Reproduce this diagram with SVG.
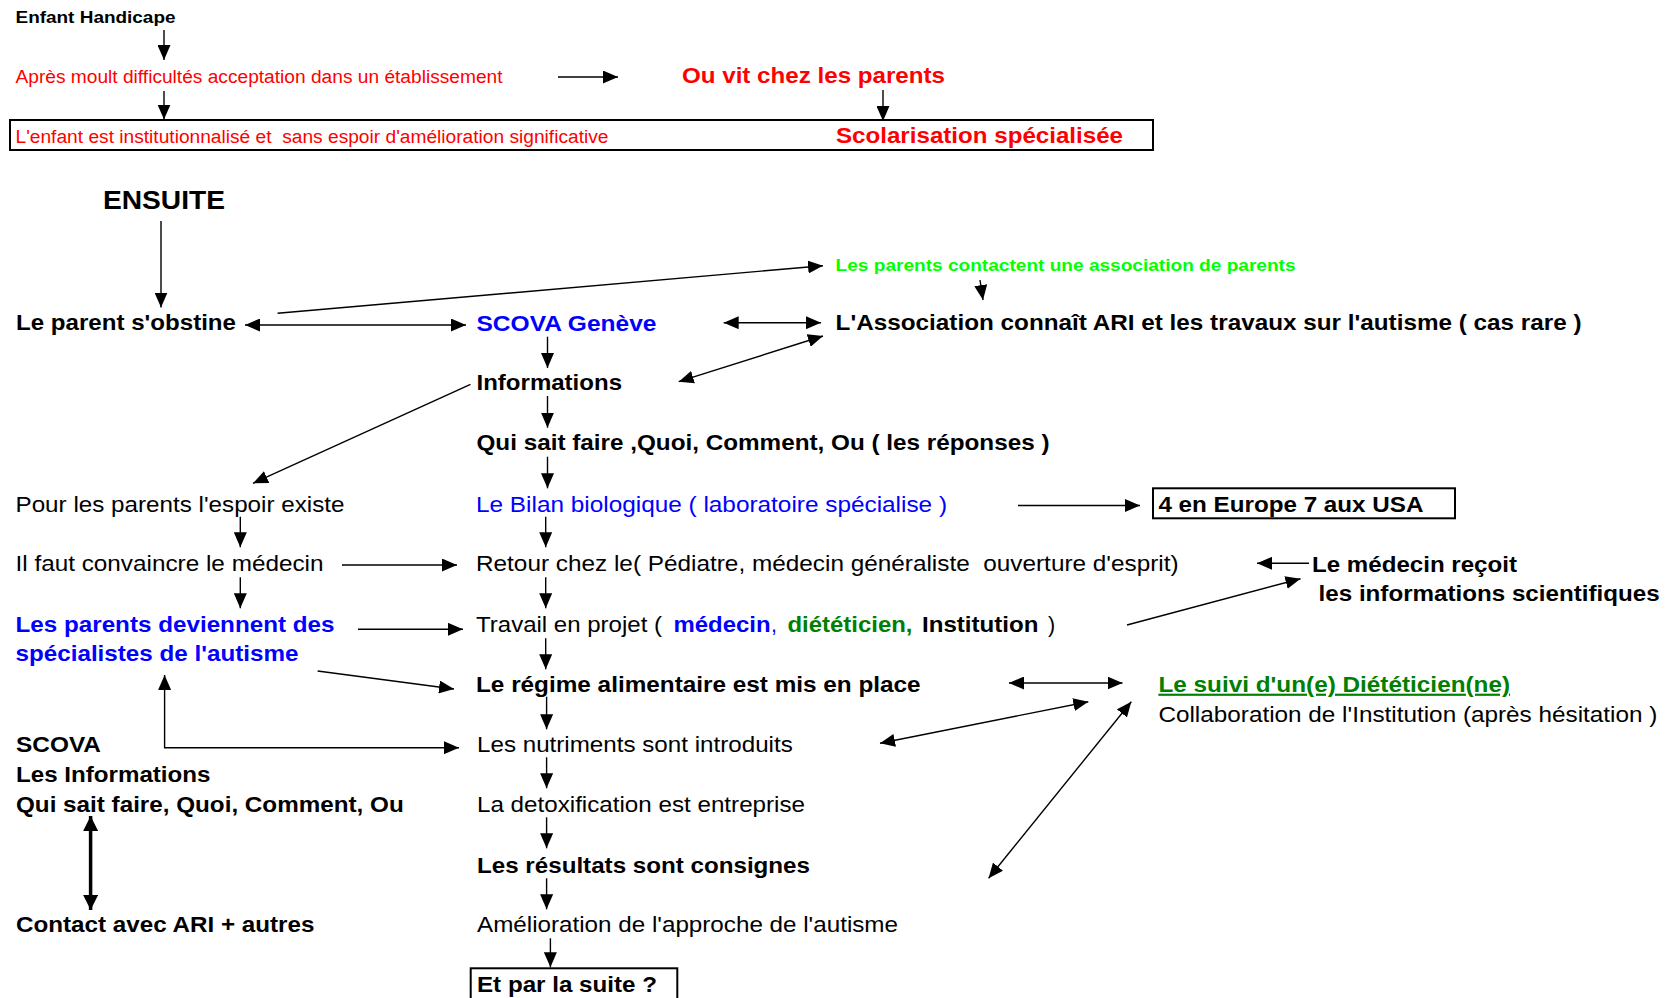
<svg xmlns="http://www.w3.org/2000/svg" width="1675" height="998" viewBox="0 0 1675 998">
<style>
text{font-family:"Liberation Sans",Arial,sans-serif;fill:#000}
.b{font-weight:bold}
.r{fill:#ff0000}
.bl{fill:#0000ff}
.g{fill:#00ff00}
.dg{fill:#008000}
.m{font-size:21.5px}
.ln{fill:none;stroke:#000;stroke-width:1.4}
.box{fill:none;stroke:#000;stroke-width:2}
</style>
<defs>
<marker id="ah" markerUnits="userSpaceOnUse" markerWidth="16" markerHeight="13" refX="15" refY="6.5" orient="auto-start-reverse" viewBox="0 0 16 13">
<path d="M0,0 L15,6.5 L0,13 z" fill="#000"/>
</marker>
<marker id="ahb" markerUnits="userSpaceOnUse" markerWidth="16" markerHeight="15" refX="15" refY="7.5" orient="auto-start-reverse" viewBox="0 0 16 15">
<path d="M0,0 L15,7.5 L0,15 z" fill="#000"/>
</marker>
</defs>
<g id="connectors">
<path class="ln" d="M164,30 V60" marker-end="url(#ah)"/>
<path class="ln" d="M558,77 H618" marker-end="url(#ah)"/>
<path class="ln" d="M164,91 V119.5" marker-end="url(#ah)"/>
<path class="ln" d="M883,90 V121" marker-end="url(#ah)"/>
<path class="ln" d="M161,221 V307.5" marker-end="url(#ah)"/>
<path class="ln" d="M277.6,313.3 L823,265.7" marker-end="url(#ah)"/>
<path class="ln" d="M245,325 H466" marker-start="url(#ah)" marker-end="url(#ah)"/>
<path class="ln" d="M723.7,322.7 H821" marker-start="url(#ah)" marker-end="url(#ah)"/>
<path class="ln" d="M547.5,336.7 V368" marker-end="url(#ah)"/>
<path class="ln" d="M678.7,381.7 L823,336" marker-start="url(#ah)" marker-end="url(#ah)"/>
<path class="ln" d="M470.5,384.3 L253,483.3" marker-end="url(#ah)"/>
<path class="ln" d="M980,280 L983,300" marker-end="url(#ah)"/>
<path class="ln" d="M547.5,396 V427.7" marker-end="url(#ah)"/>
<path class="ln" d="M547.5,456.7 V488.3" marker-end="url(#ah)"/>
<path class="ln" d="M240.3,516.7 V547.3" marker-end="url(#ah)"/>
<path class="ln" d="M545.7,516.7 V547.3" marker-end="url(#ah)"/>
<path class="ln" d="M1018,505.5 H1140" marker-end="url(#ah)"/>
<path class="ln" d="M342,565 H457" marker-end="url(#ah)"/>
<path class="ln" d="M1309,563.3 H1257" marker-end="url(#ah)"/>
<path class="ln" d="M240.3,577.3 V608.3" marker-end="url(#ah)"/>
<path class="ln" d="M545.7,577.3 V608.3" marker-end="url(#ah)"/>
<path class="ln" d="M358,629.3 H463" marker-end="url(#ah)"/>
<path class="ln" d="M1127,625 L1300.5,578.7" marker-end="url(#ah)"/>
<path class="ln" d="M545.7,638.3 V669.3" marker-end="url(#ah)"/>
<path class="ln" d="M317.6,671 L454,689" marker-end="url(#ah)"/>
<path class="ln" d="M1009,683 H1122.5" marker-start="url(#ah)" marker-end="url(#ah)"/>
<path class="ln" d="M546.6,696.7 V729.3" marker-end="url(#ah)"/>
<path class="ln" d="M164.6,675 V747.7 H459" marker-start="url(#ah)" marker-end="url(#ah)"/>
<path class="ln" d="M880,743.3 L1088.3,701.7" marker-start="url(#ah)" marker-end="url(#ah)"/>
<path class="ln" d="M546.6,757.3 V788.3" marker-end="url(#ah)"/>
<path class="ln" d="M546.6,817.3 V848.3" marker-end="url(#ah)"/>
<path class="ln" d="M988.6,878.3 L1131.3,701.7" marker-start="url(#ah)" marker-end="url(#ah)"/>
<path class="ln" d="M90.6,816 V910" style="stroke-width:3.5" marker-start="url(#ahb)" marker-end="url(#ahb)"/>
<path class="ln" d="M546.6,878.3 V909.3" marker-end="url(#ah)"/>
<path class="ln" d="M550.4,938.3 V967.3" marker-end="url(#ah)"/>
</g>
<g id="n-enfant"><text class="b" x="15.5" y="23" font-size="16.5" textLength="160" lengthAdjust="spacingAndGlyphs">Enfant Handicape</text></g>
<g id="n-apres"><text class="r" x="15.5" y="83" font-size="18" textLength="487" lengthAdjust="spacingAndGlyphs">Après moult difficultés acceptation dans un établissement</text></g>
<g id="n-ouvit"><text class="b r" x="682" y="82.7" font-size="22.5" textLength="263" lengthAdjust="spacingAndGlyphs">Ou vit chez les parents</text></g>
<g id="n-box1">
<rect class="box" x="10" y="120" width="1143" height="30"/>
<text class="r" x="15.5" y="143" font-size="18" textLength="593" lengthAdjust="spacingAndGlyphs" xml:space="preserve">L'enfant est institutionnalisé et  sans espoir d'amélioration significative</text>
<text class="b r" x="836" y="143.3" font-size="22.5" textLength="287" lengthAdjust="spacingAndGlyphs">Scolarisation spécialisée</text>
</g>
<g id="n-ensuite"><text class="b" x="103" y="209.3" font-size="25" textLength="122" lengthAdjust="spacingAndGlyphs">ENSUITE</text></g>
<g id="n-contact-assoc"><text class="b g" x="835.6" y="270.7" font-size="17" textLength="460" lengthAdjust="spacingAndGlyphs">Les parents contactent une association de parents</text></g>
<g id="n-parent"><text class="b m" x="16" y="330" textLength="220" lengthAdjust="spacingAndGlyphs">Le parent s'obstine</text></g>
<g id="n-scova"><text class="b m bl" x="476.5" y="330.5" textLength="180" lengthAdjust="spacingAndGlyphs">SCOVA Genève</text></g>
<g id="n-association"><text class="b m" x="835.6" y="330" textLength="746" lengthAdjust="spacingAndGlyphs">L'Association connaît ARI et les travaux sur l'autisme ( cas rare )</text></g>
<g id="n-informations"><text class="b m" x="476.5" y="390.3" textLength="145.5" lengthAdjust="spacingAndGlyphs">Informations</text></g>
<g id="n-qui"><text class="b m" x="476.5" y="450" textLength="573" lengthAdjust="spacingAndGlyphs">Qui sait faire ,Quoi, Comment, Ou ( les réponses )</text></g>
<g id="n-pour"><text class="m" x="15.5" y="511.7" textLength="329" lengthAdjust="spacingAndGlyphs">Pour les parents l'espoir existe</text></g>
<g id="n-bilan"><text class="m bl" x="476" y="511.7" textLength="471" lengthAdjust="spacingAndGlyphs">Le Bilan biologique ( laboratoire spécialise )</text></g>
<g id="n-europe">
<rect class="box" x="1153" y="488.3" width="302" height="30"/>
<text class="b m" x="1158.4" y="511.7" textLength="265" lengthAdjust="spacingAndGlyphs">4 en Europe 7 aux USA</text>
</g>
<g id="n-ilfaut"><text class="m" x="15.5" y="570.7" textLength="308" lengthAdjust="spacingAndGlyphs">Il faut convaincre le médecin</text></g>
<g id="n-retour"><text class="m" x="476" y="570.7" textLength="702.6" lengthAdjust="spacingAndGlyphs" xml:space="preserve">Retour chez le( Pédiatre, médecin généraliste  ouverture d'esprit)</text></g>
<g id="n-medecin">
<text class="b m" x="1312" y="571.7" textLength="205" lengthAdjust="spacingAndGlyphs">Le médecin reçoit</text>
<text class="b m" x="1318.6" y="600.7" textLength="341" lengthAdjust="spacingAndGlyphs">les informations scientifiques</text>
</g>
<g id="n-specialistes">
<text class="b m bl" x="15.5" y="631.7" textLength="319" lengthAdjust="spacingAndGlyphs">Les parents deviennent des</text>
<text class="b m bl" x="15.5" y="660.7" textLength="283" lengthAdjust="spacingAndGlyphs">spécialistes de l'autisme</text>
</g>
<g id="n-travail"><text class="m" y="631.7"><tspan x="476" textLength="186" lengthAdjust="spacingAndGlyphs">Travail en projet (</tspan> <tspan class="b bl" x="673.5" textLength="97" lengthAdjust="spacingAndGlyphs">médecin</tspan><tspan class="bl" x="771">,</tspan> <tspan class="b dg" x="787.5" textLength="125" lengthAdjust="spacingAndGlyphs">diététicien,</tspan> <tspan class="b" x="922" textLength="116.5" lengthAdjust="spacingAndGlyphs">Institution</tspan> <tspan x="1048">)</tspan></text></g>
<g id="n-regime"><text class="b m" x="476" y="691.7" textLength="444.6" lengthAdjust="spacingAndGlyphs">Le régime alimentaire est mis en place</text></g>
<g id="n-suivi">
<text class="b m dg" x="1158.4" y="691.7" textLength="351.7" lengthAdjust="spacingAndGlyphs" text-decoration="underline">Le suivi d'un(e) Diététicien(ne)</text>
<text class="m" x="1158.4" y="721.7" textLength="499" lengthAdjust="spacingAndGlyphs">Collaboration de l'Institution (après hésitation )</text>
</g>
<g id="n-scova-info">
<text class="b m" x="16" y="751.7" textLength="85" lengthAdjust="spacingAndGlyphs">SCOVA</text>
<text class="b m" x="16" y="781.7" textLength="194.5" lengthAdjust="spacingAndGlyphs">Les Informations</text>
<text class="b m" x="16" y="811.7" textLength="387.7" lengthAdjust="spacingAndGlyphs">Qui sait faire, Quoi, Comment, Ou</text>
</g>
<g id="n-nutriments"><text class="m" x="477" y="751.7" textLength="315.8" lengthAdjust="spacingAndGlyphs">Les nutriments sont introduits</text></g>
<g id="n-detox"><text class="m" x="477" y="811.7" textLength="328" lengthAdjust="spacingAndGlyphs">La detoxification est entreprise</text></g>
<g id="n-resultats"><text class="b m" x="477" y="872.7" textLength="333" lengthAdjust="spacingAndGlyphs">Les résultats sont consignes</text></g>
<g id="n-contact-ari"><text class="b m" x="16" y="932.3" textLength="298.4" lengthAdjust="spacingAndGlyphs">Contact avec ARI + autres</text></g>
<g id="n-amelioration"><text class="m" x="477" y="932.3" textLength="421" lengthAdjust="spacingAndGlyphs">Amélioration de l'approche de l'autisme</text></g>
<g id="n-suite">
<rect class="box" x="470.7" y="968.3" width="206.6" height="40"/>
<text class="b m" x="477" y="991.7" textLength="180" lengthAdjust="spacingAndGlyphs">Et par la suite ?</text>
</g>
</svg>
